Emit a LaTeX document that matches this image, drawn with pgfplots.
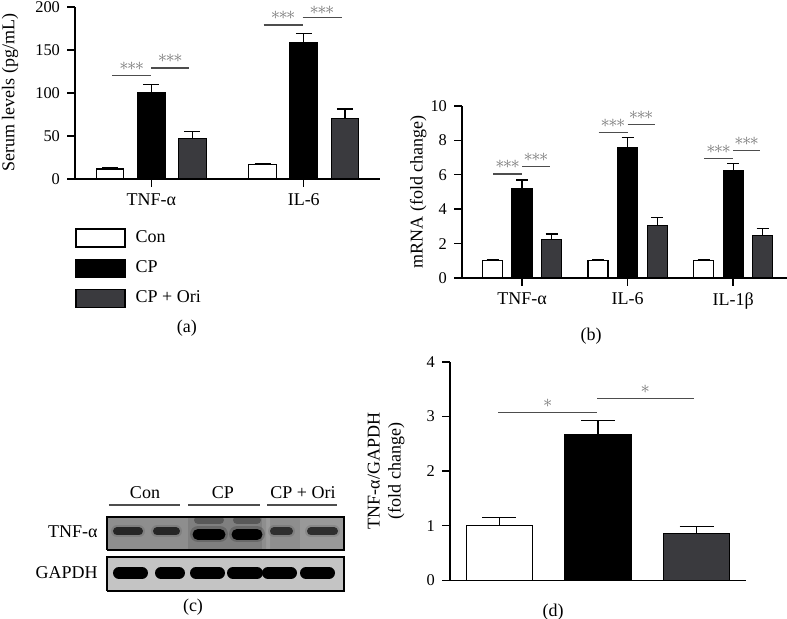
\documentclass[border=0pt]{standalone}
\usepackage{fontspec}
\setmainfont{Liberation Serif}
\usepackage{pgfplots}
\pgfplotsset{compat=1.18}

\definecolor{ori}{HTML}{3A3A3E}
\definecolor{sig}{HTML}{4D4D4D}
\definecolor{starc}{HTML}{7A7A7A}
\definecolor{blotA}{HTML}{8E8E8E}
\definecolor{blotB}{HTML}{C4C4C4}

\pgfplotsset{
 panel/.style={
   scale only axis, axis lines*=left, axis line style={line width=0.7pt},
   tick align=outside, tick pos=left, major tick length=4pt,
   tick style={line width=0.7pt, black},
   /pgf/number format/assume math mode=true,
   yticklabel style={font=\fontsize{8.2}{9}\selectfont},
   xticklabel style={font=\fontsize{9}{10}\selectfont},
   clip=false, ymin=0, anchor=south west,
 },
 ylab at/.style={every axis y label/.style={at={(axis description cs:#1,0.5)}, rotate=90, anchor=center, font=\fontsize{9}{10.5}\selectfont}},
 conbar/.style={ybar, bar shift=0pt, fill=white, draw=black, line width=0.6pt, forget plot},
 cpbar/.style={ybar, bar shift=0pt, fill=black, draw=black, line width=0.6pt, forget plot},
 oribar/.style={ybar, bar shift=0pt, fill=ori, draw=black, line width=0.6pt, forget plot},
 eb/.style={error bars/.cd, y dir=plus, y explicit, error bar style={line width=0.6pt, black, solid}, error mark options={rotate=90, line width=0.6pt, black, mark size=#1}},
 sigline/.style={sig, line width=0.6pt, forget plot},
}
\newcommand{\three}{${\ast}\mkern-1.5mu{\ast}\mkern-1.5mu{\ast}$}
\tikzset{stars/.style={text=starc, anchor=base, yshift=2.6pt, inner sep=0pt, font=\fontsize{9.5}{9.5}\selectfont},
 lab/.style={font=\fontsize{9}{10.5}\selectfont}}

\begin{document}
\begin{tikzpicture}
\useasboundingbox (0,0) rectangle (393.5pt,309.5pt);

% ---------------- (a) ----------------
\begin{axis}[panel, at={(37.5pt,220pt)}, width=152.5pt, height=86pt,
  xmin=-0.5, xmax=1.5, ymax=200, ytick={0,50,...,200},
  xtick={0,1}, xticklabels={TNF-α, IL-6}, bar width=0.18,
  ylab at=-0.213, ylabel={Serum levels (pg/mL)},
  legend style={at={(axis description cs:0,-0.285)}, anchor=north west, draw=none, fill=none,
    inner sep=0pt, row sep=5.5pt, column sep=3pt, font=\fontsize{9}{10.5}\selectfont, nodes={inner ysep=1pt, inner xsep=2pt}},
  legend cell align=left]
\addplot[conbar, eb=4pt] coordinates {(-0.27,11.6) +- (0,1.5) (0.73,16.6) +- (0,1.4)};
\addplot[cpbar, eb=4pt] coordinates {(0,100.8) +- (0,9) (1,158.5) +- (0,11)};
\addplot[oribar, eb=4pt] coordinates {(0.27,47) +- (0,7.8) (1.27,70.6) +- (0,10.8)};
\addplot[sigline] coordinates {(-0.257,120) (0,120)};
\addplot[sigline] coordinates {(0,129) (0.25,129)};
\addplot[sigline] coordinates {(0.737,179) (0.993,179)};
\addplot[sigline] coordinates {(0.993,188) (1.25,188)};
\node[stars] at (axis cs:-0.128,120) {\three};
\node[stars] at (axis cs:0.125,129) {\three};
\node[stars] at (axis cs:0.865,179) {\three};
\node[stars, yshift=-1.2pt] at (axis cs:1.12,188) {\three};
\addlegendimage{legend image code/.code={\draw[fill=white,draw=black,line width=0.6pt] (0pt,-4.5pt) rectangle (24.5pt,4.5pt);}}
\addlegendentry{Con}
\addlegendimage{legend image code/.code={\draw[fill=black,draw=black,line width=0.6pt] (0pt,-4.5pt) rectangle (24.5pt,4.5pt);}}
\addlegendentry{CP}
\addlegendimage{legend image code/.code={\draw[fill=ori,draw=black,line width=0.6pt] (0pt,-4.5pt) rectangle (24.5pt,4.5pt);}}
\addlegendentry{CP + Ori}
\node[lab] at (axis description cs:0.367,-0.866) {(a)};
\end{axis}

% ---------------- (b) ----------------
\begin{axis}[panel, at={(231pt,170.5pt)}, width=162.5pt, height=86pt,
  xmin=-0.569, xmax=2.51, ymax=10, ytick={0,2,...,10},
  xtick={0,1,2}, xticklabels={TNF-α, IL-6, IL-1β}, bar width=0.19,
  ylab at=-0.135, ylabel={mRNA (fold change)}]
\addplot[conbar, eb=3pt] coordinates {(-0.28,1.0) +- (0,0.05) (0.72,1.0) +- (0,0.05) (1.72,1.0) +- (0,0.05)};
\addplot[cpbar, eb=3pt] coordinates {(0,5.21) +- (0,0.49) (1,7.6) +- (0,0.58) (2,6.22) +- (0,0.43)};
\addplot[oribar, eb=3pt] coordinates {(0.28,2.25) +- (0,0.31) (1.28,3.04) +- (0,0.49) (2.28,2.48) +- (0,0.39)};
\addplot[sigline] coordinates {(-0.275,6.05) (0,6.05)};
\addplot[sigline] coordinates {(0,6.47) (0.265,6.47)};
\addplot[sigline] coordinates {(0.725,8.47) (1,8.47)};
\addplot[sigline] coordinates {(1,8.93) (1.256,8.93)};
\addplot[sigline] coordinates {(1.725,6.94) (2,6.94)};
\addplot[sigline] coordinates {(2,7.4) (2.256,7.4)};
\node[stars] at (axis cs:-0.137,6.05) {\three};
\node[stars] at (axis cs:0.132,6.47) {\three};
\node[stars] at (axis cs:0.862,8.47) {\three};
\node[stars] at (axis cs:1.128,8.93) {\three};
\node[stars] at (axis cs:1.862,6.94) {\three};
\node[stars] at (axis cs:2.128,7.4) {\three};
\node[lab] at (axis description cs:0.397,-0.337) {(b)};
\end{axis}

% ---------------- (c) western blot ----------------
\begin{axis}[at={(53.5pt,14pt)}, anchor=south west, scale only axis, width=118.5pt, height=37pt,
  xmin=107, xmax=344, ymin=28, ymax=102, hide axis, clip=false]
\addplot[fill=blotA, draw=none, forget plot] coordinates {(107,69) (344,69) (344,102) (107,102) (107,69)};
\addplot[fill=black, draw=none, opacity=0.10, forget plot] coordinates {(188,69) (266,69) (266,102) (188,102) (188,69)};
\addplot[fill=white, draw=none, opacity=0.12, forget plot] coordinates {(262,69) (270,69) (270,102) (262,102) (262,69)};
\addplot[fill=white, draw=none, opacity=0.10, forget plot] coordinates {(300,69) (344,69) (344,102) (300,102) (300,69)};
% TNF bands halo
\addplot[line width=6pt, line cap=round, color=black, opacity=0.10, forget plot] coordinates {(117,87.5) (139,87.5)};
\addplot[line width=6pt, line cap=round, color=black, opacity=0.10, forget plot] coordinates {(157,87.5) (176,87.5)};
\addplot[line width=8pt, line cap=round, color=black, opacity=0.18, forget plot] coordinates {(198,85) (220,85)};
\addplot[line width=8pt, line cap=round, color=black, opacity=0.18, forget plot] coordinates {(237,85) (257,85)};
\addplot[line width=6pt, line cap=round, color=black, opacity=0.10, forget plot] coordinates {(274,87.5) (289,87.5)};
\addplot[line width=6pt, line cap=round, color=black, opacity=0.10, forget plot] coordinates {(311,87.5) (334,87.5)};
% TNF bands
\addplot[line width=4pt, line cap=round, color=black!85, forget plot] coordinates {(117,87.5) (139,87.5)};
\addplot[line width=4pt, line cap=round, color=black!85, forget plot] coordinates {(157,87.5) (176,87.5)};
\addplot[line width=5.5pt, line cap=round, color=black, forget plot] coordinates {(198,84.5) (220,84.5)};
\addplot[line width=5.5pt, line cap=round, color=black, forget plot] coordinates {(237,84.5) (257,84.5)};
\addplot[line width=4pt, line cap=round, color=black!82, forget plot] coordinates {(274,87.5) (289,87.5)};
\addplot[line width=4pt, line cap=round, color=black!82, forget plot] coordinates {(311,87.5) (334,87.5)};
\addplot[line width=4pt, line cap=round, color=black, opacity=0.3, forget plot] coordinates {(198,99) (220,99)};
\addplot[line width=4pt, line cap=round, color=black, opacity=0.3, forget plot] coordinates {(237,99) (257,99)};
\addplot[draw=black, line width=0.6pt, fill=none, forget plot] coordinates {(107,69) (344,69) (344,102) (107,102) (107,69)};
% GAPDH
\addplot[fill=blotB, draw=black, line width=0.6pt, forget plot] coordinates {(107,28) (344,28) (344,62) (107,62) (107,28)};
\addplot[line width=6pt, line cap=round, color=black, forget plot] coordinates {(119,46) (142,46)};
\addplot[line width=6pt, line cap=round, color=black, forget plot] coordinates {(161,46) (179,46)};
\addplot[line width=6pt, line cap=round, color=black, forget plot] coordinates {(196,46) (219,46)};
\addplot[line width=6pt, line cap=round, color=black, forget plot] coordinates {(233,46) (257,46)};
\addplot[line width=6pt, line cap=round, color=black, forget plot] coordinates {(268,46) (291,46)};
\addplot[line width=6pt, line cap=round, color=black, forget plot] coordinates {(306,46) (329,46)};
% group lines
\addplot[sig, line width=0.6pt, forget plot] coordinates {(109,114) (180,114)};
\addplot[sig, line width=0.6pt, forget plot] coordinates {(188,114) (260,114)};
\addplot[sig, line width=0.6pt, forget plot] coordinates {(267,114) (337,114)};
\node[lab] at (axis cs:145,126) {Con};
\node[lab] at (axis cs:223,126) {CP};
\node[lab] at (axis cs:303,126) {CP + Ori};
\node[lab, anchor=east, inner sep=0pt] at (axis cs:98,87) {TNF-α};
\node[lab, anchor=east, inner sep=0pt] at (axis cs:98,46) {GAPDH};
\node[lab] at (axis cs:193,12) {(c)};
\end{axis}

% ---------------- (d) ----------------
\begin{axis}[panel, at={(225pt,19.35pt)}, width=148pt, height=109.2pt,
  xmin=-0.5, xmax=2.5, ymax=4, ytick={0,1,...,4}, xtick=\empty, bar width=0.67,
  ylab at=-0.216, ylabel={TNF-α/GAPDH\\(fold change)}, ylabel style={align=center}]
\addplot[conbar, eb=8.5pt] coordinates {(0,1.0) +- (0,0.15)};
\addplot[cpbar, eb=8.5pt] coordinates {(1,2.67) +- (0,0.25)};
\addplot[oribar, eb=8.5pt] coordinates {(2,0.85) +- (0,0.14)};
\addplot[sigline] coordinates {(-0.01,3.07) (0.99,3.07)};
\addplot[sigline] coordinates {(0.99,3.33) (1.97,3.33)};
\node[stars] at (axis cs:0.49,3.07) {${\ast}$};
\node[stars] at (axis cs:1.48,3.33) {${\ast}$};
\node[lab] at (axis description cs:0.348,-0.145) {(d)};
\end{axis}
\end{tikzpicture}
\end{document}
